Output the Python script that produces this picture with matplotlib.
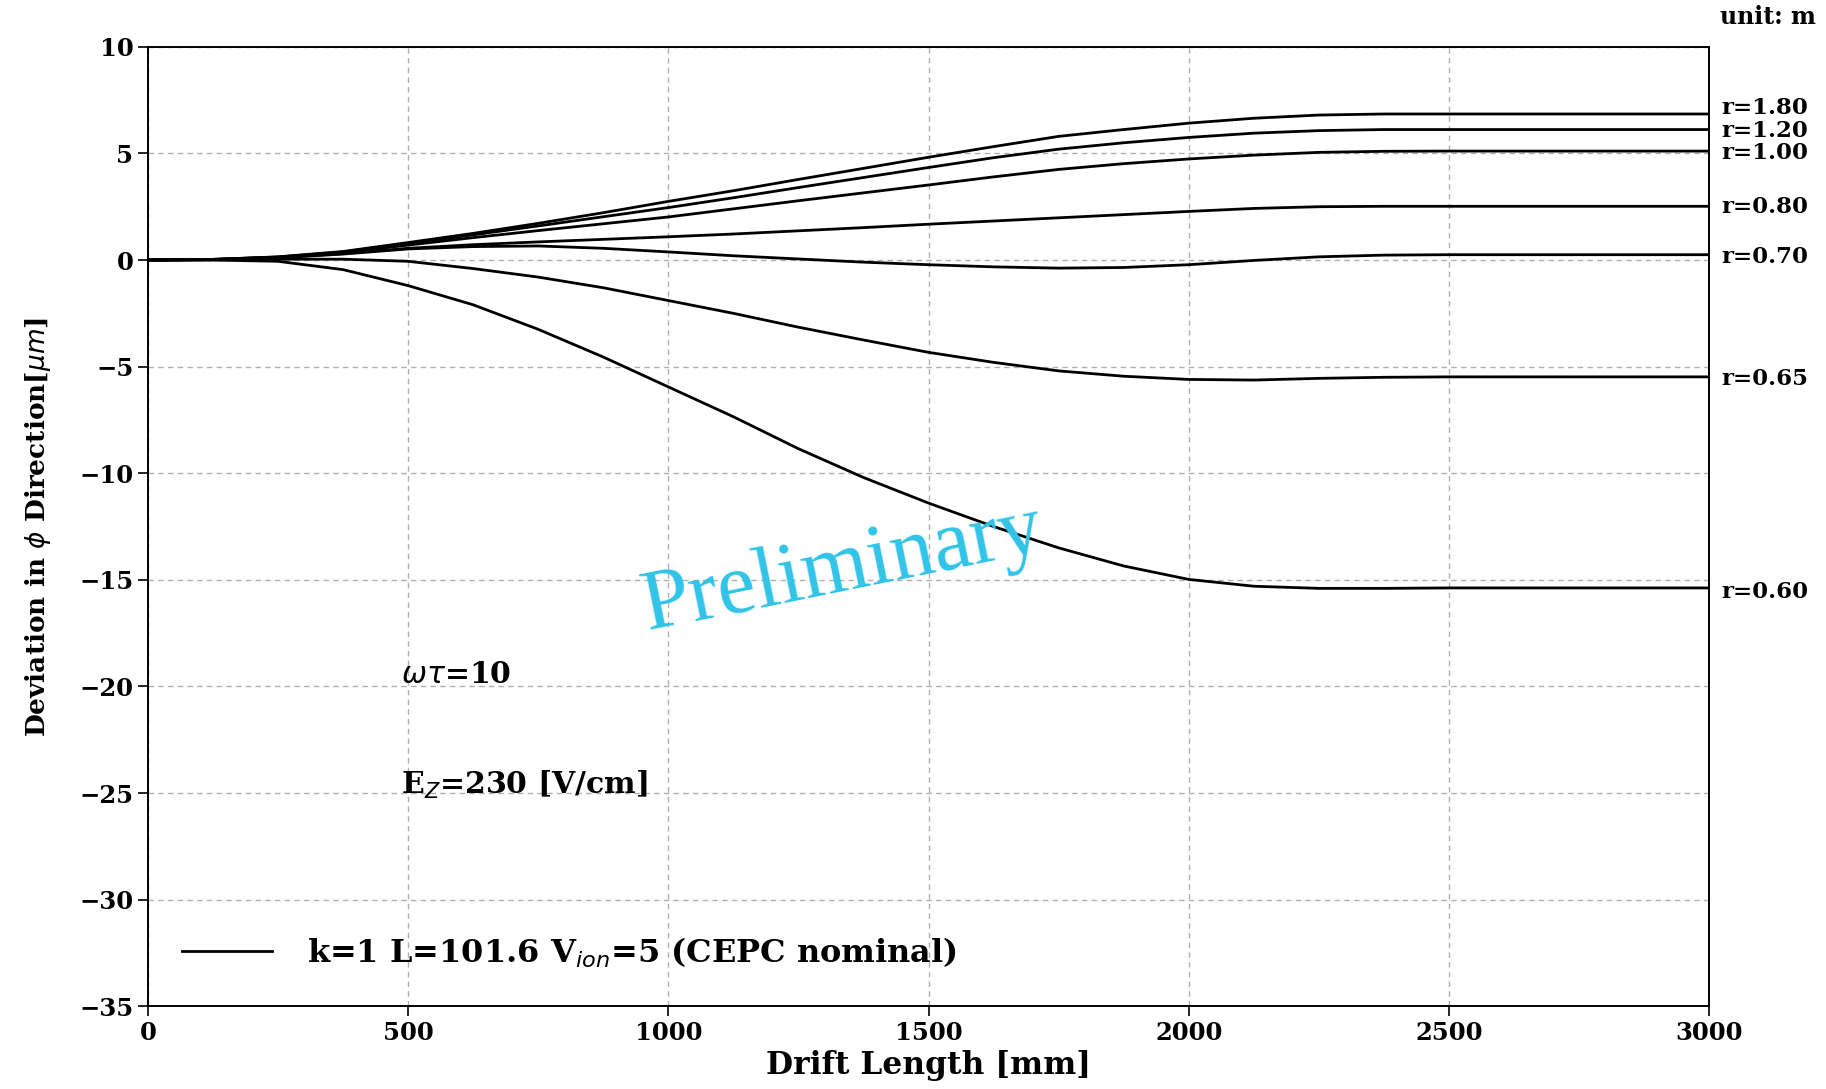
import matplotlib
matplotlib.use("Agg")
import matplotlib.pyplot as plt

# drift length grid [mm]
drift = [0, 125, 250, 375, 500, 625, 750, 875, 1000, 1125, 1250, 1375, 1500,
         1625, 1750, 1875, 2000, 2125, 2250, 2375, 2500, 3000]

# deviation in phi direction [um]
r180 = [0, 0.03, 0.15, 0.40, 0.82, 1.25, 1.72, 2.22, 2.75, 3.25, 3.78, 4.30, 4.82,
        5.32, 5.80, 6.12, 6.42, 6.65, 6.80, 6.85, 6.85, 6.85]
r120 = [0, 0.03, 0.14, 0.38, 0.78, 1.18, 1.60, 2.03, 2.46, 2.92, 3.40, 3.87, 4.34,
        4.80, 5.20, 5.50, 5.75, 5.95, 6.07, 6.12, 6.12, 6.12]
r100 = [0, 0.03, 0.13, 0.35, 0.70, 1.05, 1.38, 1.70, 2.02, 2.40, 2.78, 3.15, 3.52,
        3.90, 4.25, 4.52, 4.74, 4.92, 5.05, 5.10, 5.11, 5.11]
r080 = [0, 0.02, 0.12, 0.30, 0.55, 0.72, 0.85, 0.97, 1.09, 1.22, 1.37, 1.52, 1.68,
        1.83, 1.98, 2.13, 2.28, 2.42, 2.50, 2.52, 2.52, 2.52]
r070 = [0, 0.02, 0.10, 0.28, 0.52, 0.63, 0.66, 0.55, 0.38, 0.20, 0.05, -0.10, -0.22,
        -0.32, -0.38, -0.35, -0.22, -0.02, 0.15, 0.23, 0.25, 0.25]
r065 = [0, 0.01, 0.04, 0.04, -0.06, -0.40, -0.80, -1.30, -1.90, -2.50, -3.15, -3.75, -4.33,
        -4.80, -5.20, -5.45, -5.60, -5.63, -5.55, -5.50, -5.48, -5.48]
r060 = [0, 0, -0.06, -0.45, -1.20, -2.10, -3.25, -4.55, -5.95, -7.35, -8.85, -10.20, -11.40,
        -12.50, -13.50, -14.35, -14.98, -15.30, -15.40, -15.40, -15.38, -15.38]

curves = [r180, r120, r100, r080, r070, r065, r060]
curve_names = ["r=1.80", "r=1.20", "r=1.00", "r=0.80", "r=0.70", "r=0.65", "r=0.60"]
# where the right-hand labels sit (slightly spread so they don't collide)
label_y = [7.15, 6.05, 5.02, 2.48, 0.12, -5.6, -15.55]

plt.rcParams["font.family"] = "DejaVu Serif"
plt.rcParams["mathtext.fontset"] = "dejavusans"

fig = plt.figure(figsize=(18.26, 10.89), dpi=100)
ax = fig.add_axes([0.081, 0.076, 0.855, 0.881])

for i, ys in enumerate(curves):
    line, = ax.plot(drift, ys, color="black", lw=2.0)
    if i == 0:
        line.set_label(r"k=1 L=101.6 V$_{ion}$=5 (CEPC nominal)")
    ax.annotate(curve_names[i], xy=(3000, label_y[i]), xytext=(9, 0),
                textcoords="offset points", ha="left", va="center",
                fontsize=16.5, fontweight="bold", annotation_clip=False)

ax.set_xlim(0, 3000)
ax.set_ylim(-35, 10)
ax.set_xticks(range(0, 3001, 500))
ax.set_yticks(range(-35, 11, 5))
ax.tick_params(labelsize=17.5, length=7, width=1.2, direction="out")
for lab in ax.get_xticklabels() + ax.get_yticklabels():
    lab.set_fontweight("bold")
for sp in ax.spines.values():
    sp.set_linewidth(1.4)
ax.grid(True, color="#b0b0b0", ls=(0, (4, 3)), lw=1.0)

ax.set_xlabel("Drift Length [mm]", fontsize=22.5, fontweight="bold", labelpad=4)
ax.set_ylabel(r"Deviation in $\phi$ Direction[$\mu m$]", fontsize=19,
              fontweight="bold", labelpad=19)

ax.text(486, -19.45, r"$\omega\tau$=10", fontsize=21.5, fontweight="bold",
        ha="left", va="center")
ax.text(486, -24.6, r"E$_{Z}$=230 [V/cm]", fontsize=21.5, fontweight="bold",
        ha="left", va="center")

ax.text(1335, -14.5, "Preliminary", fontsize=62, color="#30C4E8",
        family="Liberation Serif", fontweight="normal", rotation=11.5,
        rotation_mode="anchor", ha="center", va="center")

ax.legend(loc="center left", bbox_to_anchor=(0.022, 0.056), frameon=False,
          handlelength=2.8, handletextpad=1.1,
          borderaxespad=0, borderpad=0, prop={"weight": "bold", "size": 23})

fig.text(0.942, 0.984, "unit: m", fontsize=17, fontweight="bold",
         ha="left", va="center")

fig.savefig("out.png", dpi=100)
